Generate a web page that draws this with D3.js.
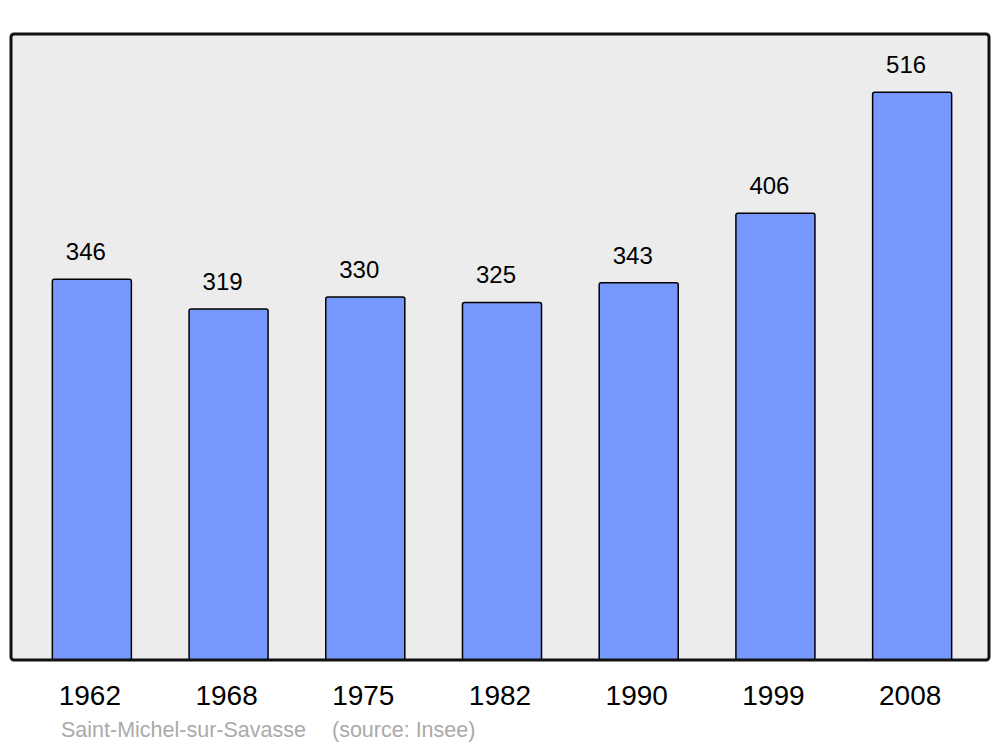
<!DOCTYPE html>
<html>
<head>
<meta charset="utf-8">
<script src="https://cdn.jsdelivr.net/npm/d3@7"></script>
<style>
  body { margin: 0; background: #fff; }
  svg { display: block; font-family: "Liberation Sans", Arial, sans-serif; }
</style>
</head>
<body>
<div id="chart"></div>
<script>
const years = ['1962', '1968', '1975', '1982', '1990', '1999', '2008'];
const population = [346, 319, 330, 325, 343, 406, 516];
const commune = 'Saint-Michel-sur-Savasse';
const source = '(source: Insee)';

const W = 1000, H = 747;
const panel = { left: 11, top: 34, right: 989, bottom: 660 };

const svg = d3.select("#chart")
    .append("svg")
    .attr("width", W)
    .attr("height", H);

const x = d3.scaleBand()
    .domain(years)
    .range([23.5, 980.5])
    .paddingInner(0.422)
    .paddingOuter(0.211);

const y = d3.scaleLinear()
    .domain([0, 569])
    .range([panel.bottom, panel.top]);

// background panel
svg.append("rect")
    .attr("x", panel.left)
    .attr("y", panel.top)
    .attr("width", panel.right - panel.left)
    .attr("height", panel.bottom - panel.top)
    .attr("rx", 3)
    .attr("fill", "#ececec");

svg.selectAll(".bar")
    .data(population)
    .enter()
    .append("rect")
    .attr("class", "bar")
    .attr("x", (d, i) => x(years[i]))
    .attr("y", d => y(d))
    .attr("width", x.bandwidth())
    .attr("height", d => y(0) - y(d))
    .attr("rx", 2)
    .attr("fill", "#7799ff")
    .attr("stroke", "#000")
    .attr("stroke-width", 1.5);

svg.selectAll(".val")
    .data(population)
    .enter()
    .append("text")
    .attr("class", "val")
    .attr("x", (d, i) => x(years[i]) + x.bandwidth() / 2 - 6)
    .attr("y", d => y(d) - 19)
    .attr("text-anchor", "middle")
    .attr("font-size", 24)
    .attr("fill", "#000")
    .text(d => d);

// panel border drawn over bar bottoms
svg.append("rect")
    .attr("x", panel.left)
    .attr("y", panel.top)
    .attr("width", panel.right - panel.left)
    .attr("height", panel.bottom - panel.top)
    .attr("rx", 3)
    .attr("fill", "none")
    .attr("stroke", "#111")
    .attr("stroke-width", 3);

// x axis labels
const xAxis = svg.append("g")
    .attr("transform", `translate(0,${panel.bottom})`)
    .call(d3.axisBottom(x).tickSize(0).tickPadding(0));
xAxis.select(".domain").remove();
xAxis.selectAll("text")
    .attr("y", 45)
    .attr("dy", 0)
    .attr("dx", -2)
    .attr("font-size", 28)
    .attr("font-family", "Liberation Sans, Arial, sans-serif")
    .attr("fill", "#000");

svg.append("text")
    .attr("x", 61)
    .attr("y", 737)
    .attr("font-size", 21.5)
    .attr("fill", "#aaaaaa")
    .text(commune);

svg.append("text")
    .attr("x", 332)
    .attr("y", 737)
    .attr("font-size", 21.5)
    .attr("fill", "#aaaaaa")
    .text(source);
</script>
</body>
</html>
